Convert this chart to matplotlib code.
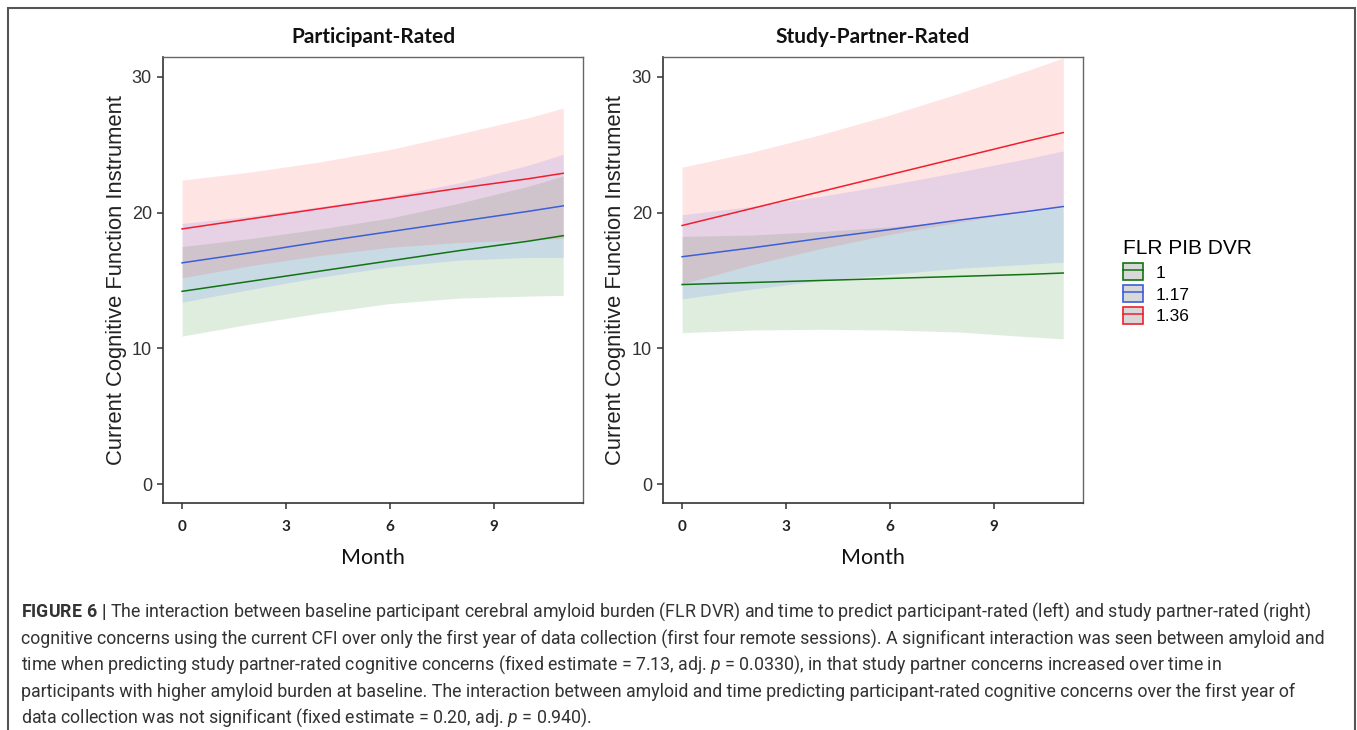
import matplotlib
matplotlib.use("Agg")
import matplotlib.pyplot as plt
from matplotlib.patches import Patch, Rectangle
from matplotlib.lines import Line2D

# values (month, predicted CFI, ribbon low/high)
months = [0, 2, 4, 6, 8, 10, 11]
groups = ["1", "1.17", "1.36"]

part_fit = {"1": [14.2, 14.95, 15.7, 16.45, 17.2, 17.9, 18.3],
            "1.17": [16.3, 17.05, 17.85, 18.6, 19.35, 20.1, 20.5],
            "1.36": [18.8, 19.55, 20.3, 21.05, 21.8, 22.5, 22.9]}
part_lo = {"1": [10.9, 11.8, 12.6, 13.3, 13.7, 13.85, 13.9],
           "1.17": [13.4, 14.35, 15.25, 16.0, 16.5, 16.7, 16.7],
           "1.36": [15.2, 16.1, 16.85, 17.45, 17.8, 18.0, 18.1]}
part_hi = {"1": [17.5, 18.1, 18.8, 19.6, 20.7, 21.95, 22.7],
           "1.17": [19.2, 19.75, 20.45, 21.2, 22.2, 23.5, 24.3],
           "1.36": [22.4, 23.0, 23.75, 24.65, 25.8, 27.0, 27.7]}

sp_fit = {"1": [14.7, 14.85, 15.0, 15.15, 15.3, 15.45, 15.55],
          "1.17": [16.75, 17.4, 18.1, 18.75, 19.45, 20.1, 20.45],
          "1.36": [19.05, 20.3, 21.55, 22.8, 24.05, 25.3, 25.9]}
sp_lo = {"1": [11.15, 11.35, 11.4, 11.35, 11.2, 10.85, 10.7],
         "1.17": [13.65, 14.35, 15.0, 15.45, 15.9, 16.2, 16.35],
         "1.36": [14.75, 16.15, 17.35, 18.4, 19.3, 20.1, 20.4]}
sp_hi = {"1": [18.25, 18.35, 18.6, 18.95, 19.4, 20.05, 20.4],
         "1.17": [19.85, 20.45, 21.2, 22.05, 23.0, 24.0, 24.55],
         "1.36": [23.35, 24.45, 25.75, 27.2, 28.8, 30.5, 31.4]}

xticks = [0, 3, 6, 9]
yticks = [0, 10, 20, 30]

line_col = {"1": "#127312", "1.17": "#3c5ed8", "1.36": "#f01e2e"}
fill_col = {"1": "#2e8b2e", "1.17": "#3060ff", "1.36": "#ff3030"}
fill_alpha = {"1": 0.15, "1.17": 0.13, "1.36": 0.13}

caption = [
    r"$\mathbf{FIGURE\ 6\ |}$ The interaction between baseline participant cerebral amyloid burden (FLR DVR) and time to predict participant-rated (left) and study partner-rated (right)",
    "cognitive concerns using the current CFI over only the first year of data collection (first four remote sessions). A significant interaction was seen between amyloid and",
    r"time when predicting study partner-rated cognitive concerns (fixed estimate = 7.13, adj. $p$ = 0.0330), in that study partner concerns increased over time in",
    "participants with higher amyloid burden at baseline. The interaction between amyloid and time predicting participant-rated cognitive concerns over the first year of",
    r"data collection was not significant (fixed estimate = 0.20, adj. $p$ = 0.940).",
]

plt.rcParams["mathtext.fontset"] = "custom"
plt.rcParams["mathtext.rm"] = "Roboto"
plt.rcParams["mathtext.it"] = "Roboto:italic"
plt.rcParams["mathtext.bf"] = "Roboto:bold"

W, H = 1357, 730
fig = plt.figure(figsize=(W / 100, H / 100), dpi=100)

def draw_panel(left, title, fit, lo, hi, ylab_x):
    ax = fig.add_axes([left / W, 1 - 503 / H, 420 / W, 446 / H])
    for g in groups:
        ax.fill_between(months, lo[g], hi[g], color=fill_col[g],
                        alpha=fill_alpha[g], lw=0)
    for g in groups:
        ax.plot(months, fit[g], color=line_col[g], lw=1.1, zorder=3)
    ax.set_xlim(-0.55, 11.57)
    ax.set_ylim(-1.4, 31.47)
    ax.set_xticks(xticks)
    ax.set_yticks(yticks)
    ax.set_xticklabels([str(t) for t in xticks], fontfamily="Lato",
                       fontsize=11, fontweight="bold", color="#222")
    ax.set_yticklabels([str(t) for t in yticks], fontfamily="Liberation Sans",
                       fontsize=13, color="#333")
    ax.tick_params(length=4, width=1.1, color="#333", pad=4)
    ax.tick_params(axis="x", pad=8)
    for s in ["left", "bottom"]:
        ax.spines[s].set_color("#333")
        ax.spines[s].set_linewidth(1.2)
    for s in ["top", "right"]:
        ax.spines[s].set_color("#666")
        ax.spines[s].set_linewidth(1.0)
    ax.set_title(title, fontfamily="Lato", fontweight="bold", fontsize=15,
                 pad=10, color="#111")
    ax.set_xlabel("Month", fontfamily="Lato", fontsize=15.5, color="#111",
                  labelpad=10)
    fig.text(ylab_x / W, 1 - 280 / H, "Current Cognitive Function Instrument",
             rotation=90, ha="center", va="center", fontsize=15.8,
             fontfamily="Liberation Sans", color="#222")
    return ax

draw_panel(163, "Participant-Rated", part_fit, part_lo, part_hi, 117)
draw_panel(663, "Study-Partner-Rated", sp_fit, sp_lo, sp_hi, 615)

handles = [(Patch(facecolor="#d8d8d8", edgecolor=line_col[g], lw=1.2),
            Line2D([], [], color=line_col[g], lw=1.1)) for g in groups]
leg = fig.legend(handles, groups, title="FLR PIB DVR", loc="upper left",
                 bbox_to_anchor=(1114 / W, 1 - 230 / H), frameon=False,
                 title_fontsize=15, handlelength=1.15,
                 handleheight=1.15, labelspacing=0.25, handletextpad=0.75,
                 borderpad=0, alignment="left",
                 prop={"family": "Liberation Sans", "size": 12.5})
leg.get_title().set_fontfamily("Liberation Sans")
leg._legend_box.sep = 4

# outer frame of the figure panel
fig.patches.append(Rectangle((8 / W, -0.05), 1347 / W, 1.05 - 8 / H,
                             transform=fig.transFigure, fill=False,
                             edgecolor="#555", lw=1.5))

ys = [612, 639, 665, 692, 718]
texts = []
for y, t in zip(ys, caption):
    texts.append(fig.text(21 / W, 1 - y / H, t, ha="left", va="center",
                          fontsize=12, fontfamily="Roboto", color="#333"))

# fit the widest caption line to the text block width (ends near x=1340)
size = 12
for _ in range(3):
    fig.canvas.draw()
    widest = max(t.get_window_extent().width for t in texts)
    size = size * 1312 / widest
    for t in texts:
        t.set_fontsize(size)
for t in texts:
    t.set_fontsize(size * 0.99)

fig.savefig("out.png", dpi=100)
